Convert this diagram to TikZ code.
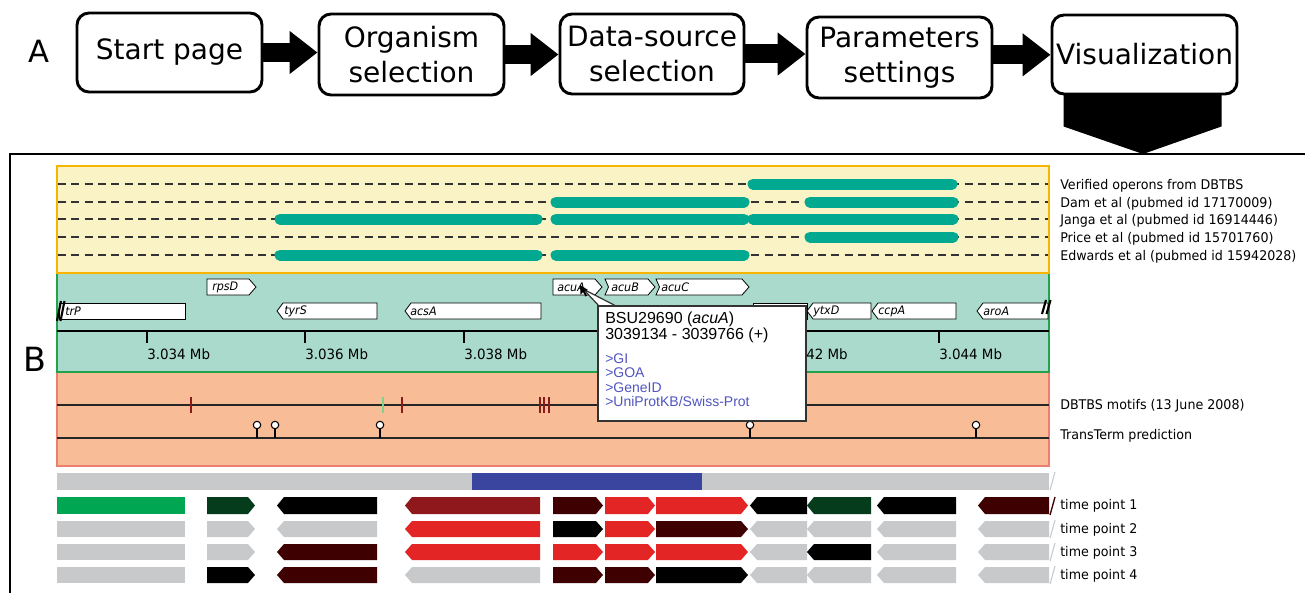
\documentclass[tikz,border=0pt]{standalone}
\usepackage{fontspec}
\setmainfont{DejaVu Sans}
\newfontfamily\lab[FakeStretch=0.95]{DejaVu Sans}
\newfontfamily\arial{Liberation Sans}
\usetikzlibrary{arrows.meta,calc}
\definecolor{ylbg}{HTML}{F9F3C6}
\definecolor{ylbd}{HTML}{F7B500}
\definecolor{tlbg}{HTML}{A9DACC}
\definecolor{tlbd}{HTML}{22A24C}
\definecolor{orbg}{HTML}{F8BC96}
\definecolor{orbd}{HTML}{EC7F70}
\definecolor{opgreen}{HTML}{00A98F}
\definecolor{gbar}{HTML}{C8C9CB}
\definecolor{bbar}{HTML}{3A45A0}
\definecolor{tgreen}{HTML}{00A651}
\definecolor{dkgreen}{HTML}{053D1C}
\definecolor{dkbrown}{HTML}{3E0000}
\definecolor{dkred}{HTML}{8E181B}
\definecolor{tred}{HTML}{E42526}
\definecolor{mred}{HTML}{8B1A1A}
\definecolor{mgreen}{HTML}{7DD38B}
\definecolor{linkblue}{HTML}{5055C0}
\newcommand\gfwd[6]{\path[#6] (#1,#3) -- ({#2-#5},#3) -- (#2,{(#3+#4)/2}) -- ({#2-#5},#4) -- (#1,#4) -- cycle;}
\newcommand\grev[6]{\path[#6] ({#1+#5},#3) -- (#2,#3) -- (#2,#4) -- ({#1+#5},#4) -- (#1,{(#3+#4)/2}) -- cycle;}
\newcommand\gnot[6]{\path[#6] (#1,#3) -- ({#2-#5},#3) -- (#2,{(#3+#4)/2}) -- ({#2-#5},#4) -- (#1,#4) -- ({#1+#5*0.5},{(#3+#4)/2}) -- cycle;}
\newcommand\gbox[6]{\path[#6] (#1,#3) rectangle (#2,#4);}
\newcommand\tprow[3]{\foreach \xa/\xb/\dd/\cl in {#3}{\csname g\dd\endcsname{\xa}{\xb}{#1}{#2}{7}{fill=\cl}}}
\tikzset{
  flowbox/.style={draw=black, line width=2.2pt, rounded corners=9pt, fill=white, align=center, inner sep=0pt, font=\fontsize{21}{26}\selectfont},
  blockarrow/.style={line width=14.25pt, -{Triangle[length=21pt,width=31pt]}},
  rlabel/.style={anchor=west, inner sep=0pt, font=\lab\fontsize{10}{12}\selectfont},
  axlabel/.style={anchor=west, inner sep=0pt, font=\lab\fontsize{10.6}{12}\selectfont},
  glabel/.style={anchor=west, inner sep=0pt, font=\lab\itshape\fontsize{8.8}{9}\selectfont},
  genebox/.style={fill=white, draw=black, line width=0.6pt},
  opbar/.style={line width=8.25pt, opgreen, line cap=round},
  dashrow/.style={dash pattern=on 6pt off 4pt, line width=0.8pt, black!80},
  motif/.style={line width=1.5pt, mred},
  lolli/.style={draw=black, fill=white, line width=0.8pt},
  brk/.style={line width=1.6pt, black},
  slash/.style={line width=0.8pt, gbar},
}
\begin{document}
\begin{tikzpicture}[x=0.75pt,y=-0.75pt]
\useasboundingbox (0,0) rectangle (1305,592);
\fill[white] (0,0) rectangle (1305,592);

% ---------- A: flow ----------
\node[font=\fontsize{23}{23}\selectfont, inner sep=0pt] (labA) at (38.5,51) {A};
\node[flowbox, minimum width=138.75pt, minimum height=59.25pt] (b1) at (169.5,52.5) {Start page};
\node[flowbox, minimum width=138.75pt, minimum height=60.75pt] (b2) at (411.5,54.5) {Organism\\selection};
\node[flowbox, minimum width=138pt, minimum height=60pt] (b3) at (652,54) {Data-source\\selection};
\node[flowbox, minimum width=138.75pt, minimum height=60.75pt] (b4) at (899.5,57.5) {Parameters\\settings};
\node[flowbox, minimum width=138.75pt, minimum height=59.25pt] (b5) at (1144.5,54.5) {Visualization};
\draw[blockarrow] (b1.east) -- (b1.east -| b2.west);
\draw[blockarrow] (b2.east) -- (b2.east -| b3.west);
\draw[blockarrow] (b3.east) -- (b3.east -| b4.west);
\draw[blockarrow] ([yshift=2pt]b4.west -| b4.east) -- ([yshift=2pt]b4.west -| b5.west);
\coordinate (vtip) at (1143,154);
\fill[black] ($(b5.south)+(-81,-1)$) -- ($(b5.south)+(77,-1)$) -- ($(b5.south)+(77,31)$) -- (vtip) -- ($(b5.south)+(-81,31)$) -- cycle;

% ---------- B frame ----------
\draw[line width=1.8pt] (1306,154) -- (10,154) -- (10,593);
\node[font=\fontsize{25}{25}\selectfont, inner sep=0pt] (labB) at (35,359.5) {B};

% panels
\draw[fill=orbg, draw=orbd, line width=1.2pt] (57,372) rectangle (1049,466);
\draw[fill=tlbg, draw=tlbd, line width=1.2pt] (57,273) rectangle (1049,372);
\draw[fill=ylbg, draw=ylbd, line width=1.2pt] (57,166) rectangle (1049,273);

% operon rows
\foreach \yy in {184,202,219,237,255} \draw[dashrow] (58,\yy) -- (1048,\yy);
\draw[opbar] (753,184) -- (952,184);
\draw[opbar] (556,202) -- (744,202);
\draw[opbar] (810,202) -- (953,202);
\draw[opbar] (280,219) -- (537,219);
\draw[opbar] (556,219) -- (744,219);
\draw[opbar] (753,219) -- (953,219);
\draw[opbar] (810,237) -- (953,237);
\draw[opbar] (280,255) -- (537,255);
\draw[opbar] (556,255) -- (744,255);
\node[rlabel] (l1) at (1060,186) {Verified operons from DBTBS};
\node[rlabel] (l2) at (1060,203.5) {Dam et al (pubmed id 17170009)};
\node[rlabel] (l3) at (1060,221) {Janga et al (pubmed id 16914446)};
\node[rlabel] (l4) at (1060,239) {Price et al (pubmed id 15701760)};
\node[rlabel] (l5) at (1060,257) {Edwards et al (pubmed id 15942028)};

% gene track
\gfwd{207}{256}{279}{295}{7}{genebox}
\gfwd{553}{602}{279}{295}{7}{genebox}
\gnot{605}{655}{279}{295}{7}{genebox}
\gnot{656}{749}{279}{295}{7}{genebox}
\gbox{59}{185}{303}{319}{7}{genebox}
\grev{277}{377}{303}{319}{6}{genebox}
\grev{405}{541}{303}{319}{6}{genebox}
\gbox{753}{807}{303}{319}{6}{genebox}
\grev{807}{871}{303}{319}{6}{genebox}
\grev{872}{956}{303}{319}{6}{genebox}
\grev{977}{1048}{303}{319}{6}{genebox}
\node[glabel] (grpsD) at (212,287.5) {rpsD};
\node[glabel] (gacuA) at (557,287.5) {acuA};
\node[glabel] (gacuB) at (611,287.5) {acuB};
\node[glabel] (gacuC) at (661,287.5) {acuC};
\node[glabel] (gytrP) at (65,311.5) {trP};
\node[glabel] (gtyrS) at (284,311.5) {tyrS};
\node[glabel] (gacsA) at (410,311.5) {acsA};
\node[glabel] (gytxD) at (813,311.5) {ytxD};
\node[glabel] (gccpA) at (878,311.5) {ccpA};
\node[glabel] (garoA) at (983,311.5) {aroA};
\draw[brk] (57,321) -- (61,301);
\draw[brk] (60.5,321) -- (64.5,301);
\draw[brk] (1042,314) -- (1046,300);
\draw[brk] (1046.5,314) -- (1050.5,300);

% axis
\draw[line width=1.5pt] (57,331) -- (1049,331);
\foreach \tx in {147,305,464,622,780,939} \draw[line width=1.5pt] (\tx,331) -- (\tx,343);
\node[axlabel] (ax1) at (147,354) {3.034 Mb};
\node[axlabel] (ax2) at (305,354) {3.036 Mb};
\node[axlabel] (ax3) at (464,354) {3.038 Mb};
\node[axlabel] (ax5) at (806,354) {42 Mb};
\node[axlabel] (ax6) at (939,354) {3.044 Mb};

% motif panel
\draw[line width=0.9pt, black!85] (57,405) -- (1049,405);
\draw[line width=0.9pt, black!85] (57,438) -- (1049,438);
\foreach \mx in {191,402,539.5,544,548.5} \draw[motif] (\mx,397) -- (\mx,413);
\draw[line width=1.5pt, mgreen] (383,397) -- (383,413);
\foreach \lx in {257,275,380,750,976} {
  \draw[line width=0.8pt] (\lx,438) -- (\lx,428.5);
  \draw[lolli] (\lx,425) circle[radius=2.8pt];
}
\node[rlabel] (lm1) at (1060,406) {DBTBS motifs (13 June 2008)};
\node[rlabel] (lm2) at (1060,436) {TransTerm prediction};

% gray/blue bar
\fill[gbar] (57,473) rectangle (1049,490);
\fill[bbar] (472,473) rectangle (702,490);
\draw[slash] (1050,490) -- (1055,472);

% time points
\tprow{497}{514}{57/185/box/tgreen, 207/255/fwd/dkgreen, 277/377/rev/black, 405/540/rev/dkred, 553/603/fwd/dkbrown, 605/655/fwd/tred, 656/748/fwd/tred, 750/807/rev/black, 807/871/rev/dkgreen, 877/956/rev/black, 978/1049/rev/dkbrown}
\tprow{521}{537}{57/185/box/gbar, 207/255/fwd/gbar, 277/377/rev/gbar, 405/540/rev/tred, 553/603/fwd/black, 605/655/fwd/tred, 656/748/fwd/dkbrown, 750/807/rev/gbar, 807/871/rev/gbar, 877/956/rev/gbar, 978/1049/rev/gbar}
\tprow{544}{560}{57/185/box/gbar, 207/255/fwd/gbar, 277/377/rev/dkbrown, 405/540/rev/tred, 553/603/fwd/tred, 605/655/fwd/tred, 656/748/fwd/tred, 750/807/rev/gbar, 807/871/rev/black, 877/956/rev/gbar, 978/1049/rev/gbar}
\tprow{567}{583}{57/185/box/gbar, 207/255/fwd/black, 277/377/rev/dkbrown, 405/540/rev/gbar, 553/603/fwd/dkbrown, 605/655/fwd/dkbrown, 656/748/fwd/black, 750/807/rev/gbar, 807/871/rev/gbar, 877/956/rev/gbar, 978/1049/rev/gbar}
\draw[line width=1pt, dkbrown] (1050,515) -- (1055,497);
\draw[slash] (1050,538) -- (1055,520);
\draw[slash] (1050,561) -- (1055,543);
\draw[slash] (1050,584) -- (1055,566);
\node[rlabel] (t1) at (1060,506) {time point 1};
\node[rlabel] (t2) at (1060,529.5) {time point 2};
\node[rlabel] (t3) at (1060,552.5) {time point 3};
\node[rlabel] (t4) at (1060,576) {time point 4};

% popup
\coordinate (ptip) at (583,289);
\fill[white] (ptip) -- (600,307) -- (618,307) -- cycle;
\draw[line width=0.9pt, black!80] (600,307) -- (ptip) -- (618,307);
\draw[fill=white, draw=black!80, line width=1.2pt] (598,306) rectangle (806,421);
\fill[white] (600.5,307) -- (617,307) -- (617,308.5) -- (600.5,308.5) -- cycle;
\fill[black] (580,285) -- (588,290) -- (584.5,291) -- (587,295.5) -- (585.5,296.5) -- (583,292) -- (580.5,294.5) -- cycle;
\node[anchor=north west, align=left, inner sep=0pt, font=\arial\fontsize{12}{11.4}\selectfont] (ptxt) at (605,312) {BSU29690 (\textit{acuA})\\3039134 - 3039766 (+)};
\node[anchor=north west, align=left, inner sep=0pt, text=linkblue, font=\arial\fontsize{10.5}{10.9}\selectfont] (plinks) at (605,353) {>GI\\>GOA\\>GeneID\\>UniProtKB/Swiss-Prot};
\end{tikzpicture}
\end{document}
